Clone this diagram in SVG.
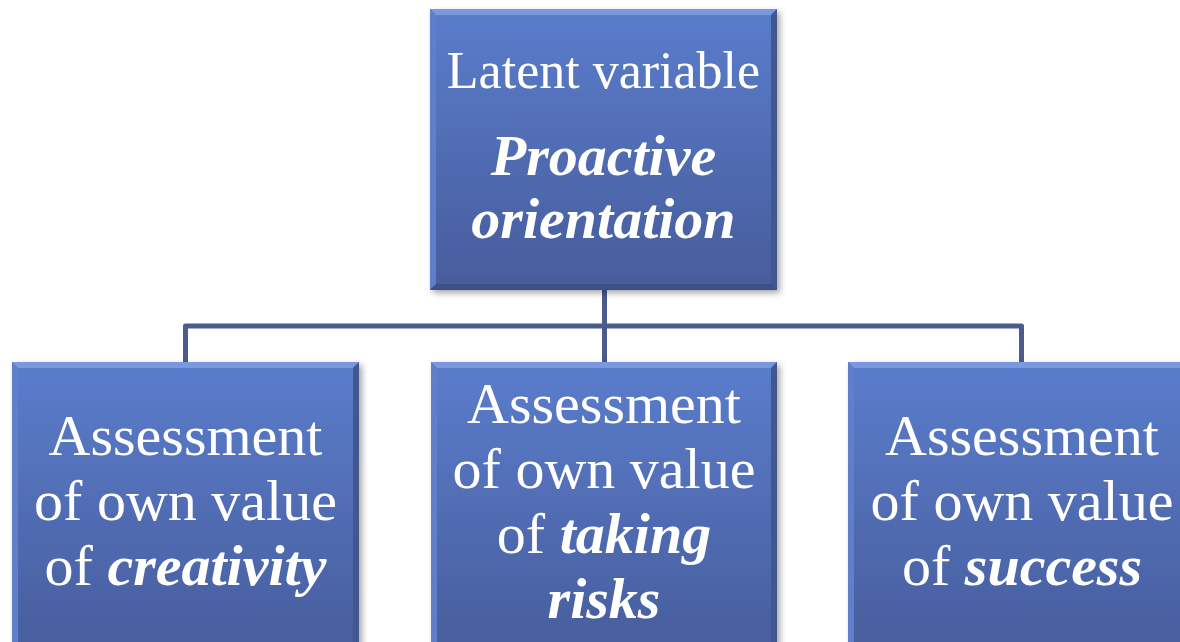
<svg xmlns="http://www.w3.org/2000/svg" width="1180" height="642" viewBox="0 0 1180 642">
  <defs>
    <linearGradient id="fill" x1="0" y1="0" x2="0" y2="1">
      <stop offset="0" stop-color="#5a7dcc"/>
      <stop offset="1" stop-color="#475c9b"/>
    </linearGradient>
    <filter id="shadow" x="-10%" y="-10%" width="125%" height="125%">
      <feDropShadow dx="3" dy="3" stdDeviation="3" flood-color="#000" flood-opacity="0.35"/>
    </filter>
    <style>
      .box { fill: url(#fill); }
      .bt { fill: #7a98dd; }
      .bl { fill: #5f7fcb; }
      .br { fill: #42568f; }
      .bb { fill: #3d5089; }
      .conn { fill: none; stroke: #4a5b8c; stroke-width: 5; stroke-linejoin: round; }
      text { font-family: "Liberation Serif", "Times New Roman", serif; fill: #ffffff; text-anchor: middle; }
      .big { font-size: 58px; }
      .top1 { font-size: 52px; }
      .em { font-style: italic; font-weight: bold; }
    </style>
  </defs>
  <rect width="1180" height="642" fill="#ffffff"/>

  <g id="connectors">
    <path class="conn" d="M604.5 290 V362"/>
    <path class="conn" d="M185.5 362 V326 H1021.5 V362"/>
  </g>

  <g id="node-latent" transform="translate(430,9)">
    <g filter="url(#shadow)">
      <rect class="box" width="347" height="281"/>
    </g>
    <polygon class="bt" points="0,0 347,0 341,6 6,6"/>
    <polygon class="bl" points="0,0 6,6 6,275 0,281"/>
    <polygon class="br" points="347,0 347,281 341,275 341,6"/>
    <polygon class="bb" points="0,281 347,281 341,275 6,275"/>
    <text class="top1" x="173.5" y="79">Latent variable</text>
    <text class="big em" x="173.5" y="166">Proactive</text>
    <text class="big em" x="173.5" y="229">orientation</text>
  </g>

  <g id="node-creativity" transform="translate(12,362)">
    <g filter="url(#shadow)">
      <rect class="box" width="347" height="300"/>
    </g>
    <polygon class="bt" points="0,0 347,0 341,6 6,6"/>
    <polygon class="bl" points="0,0 6,6 6,294 0,300"/>
    <polygon class="br" points="347,0 347,300 341,294 341,6"/>
    <text class="big" x="173.5" y="93">Assessment</text>
    <text class="big" x="173.5" y="158">of own value</text>
    <text class="big" x="173.5" y="223">of <tspan class="em">creativity</tspan></text>
  </g>

  <g id="node-risks" transform="translate(431,362)">
    <g filter="url(#shadow)">
      <rect class="box" width="346" height="300"/>
    </g>
    <polygon class="bt" points="0,0 346,0 340,6 6,6"/>
    <polygon class="bl" points="0,0 6,6 6,294 0,300"/>
    <polygon class="br" points="346,0 346,300 340,294 340,6"/>
    <text class="big" x="173" y="61">Assessment</text>
    <text class="big" x="173" y="126">of own value</text>
    <text class="big" x="173" y="191">of <tspan class="em">taking</tspan></text>
    <text class="big em" x="173" y="256">risks</text>
  </g>

  <g id="node-success" transform="translate(848,362)">
    <g filter="url(#shadow)">
      <rect class="box" width="347" height="300"/>
    </g>
    <polygon class="bt" points="0,0 347,0 341,6 6,6"/>
    <polygon class="bl" points="0,0 6,6 6,294 0,300"/>
    <polygon class="br" points="347,0 347,300 341,294 341,6"/>
    <text class="big" x="174" y="93">Assessment</text>
    <text class="big" x="174" y="158">of own value</text>
    <text class="big" x="174" y="223">of <tspan class="em">success</tspan></text>
  </g>
</svg>
